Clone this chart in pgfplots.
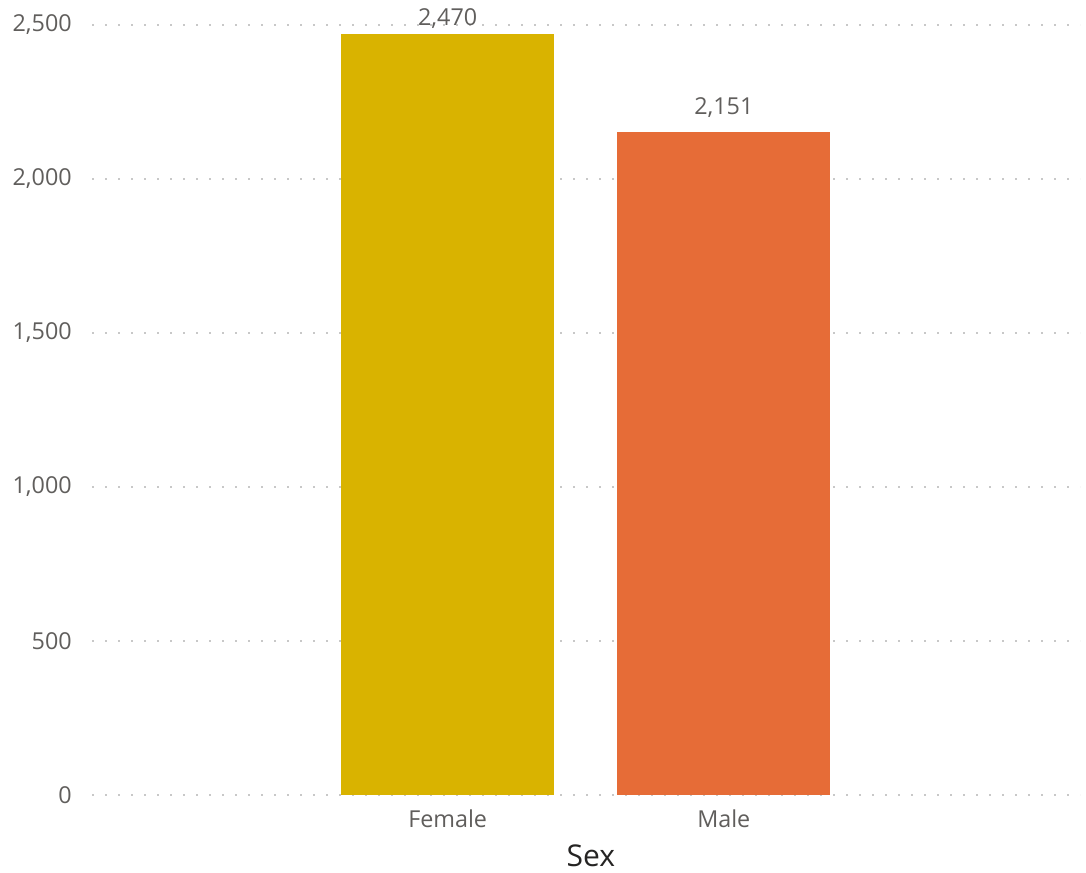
\documentclass[border=0pt]{standalone}
\usepackage{fontspec}
\setmainfont{Open Sans}
\usepackage{pgfplots}
\pgfplotsset{compat=1.18}
\definecolor{fem}{HTML}{D9B300}
\definecolor{mal}{HTML}{E66C37}
\definecolor{lbl}{HTML}{605E5C}
\definecolor{ttl}{HTML}{252423}
\definecolor{grd}{HTML}{C8C8C8}
\begin{document}
\begin{tikzpicture}
\begin{axis}[
  at={(69pt,57.75pt)}, anchor=south west,
  scale only axis, width=741pt, height=577.5pt,
  xmin=-1.288, xmax=2.29, ymin=0, ymax=2500,
  clip=false,
  axis line style={draw=none}, major tick length=0pt,
  xtick={0,1}, xticklabels={Female,Male},
  ytick={0,500,1000,1500,2000,2500},
  ymajorgrids, grid style={grd, line width=1.5pt, dash pattern=on 1.5pt off 8.25pt},
  /pgf/number format/.cd, 1000 sep={,}, assume math mode=true, /pgfplots/.cd,
  yticklabel style={font=\fontsize{17.5}{19}\selectfont, text=lbl, inner sep=0pt, anchor=east, xshift=-15pt},
  xticklabel style={font=\fontsize{17.5}{19}\selectfont, text=lbl, inner sep=0pt, anchor=north, yshift=-11pt},
  xlabel={Sex},
  xlabel style={font=\fontsize{22.5}{24}\selectfont, text=ttl, inner sep=0pt, anchor=north, at={(rel axis cs:0.505,0)}, yshift=-37pt},
  ybar, bar width=159.75pt,
  nodes near coords,
  nodes near coords style={font=\fontsize{17.5}{19}\selectfont, text=lbl, inner sep=0pt, anchor=south, /pgf/number format/1000 sep={,}, /pgf/number format/assume math mode=true},
]
\addplot[fill=fem, draw=none, bar shift=0pt, nodes near coords style={yshift=4pt}] coordinates {(0,2470)};
\addplot[fill=mal, draw=none, bar shift=0pt, nodes near coords style={yshift=11pt}] coordinates {(1,2151)};
\end{axis}
\pgfresetboundingbox
\path[use as bounding box] (0,0) rectangle (814.5pt,654pt);
\end{tikzpicture}
\end{document}
